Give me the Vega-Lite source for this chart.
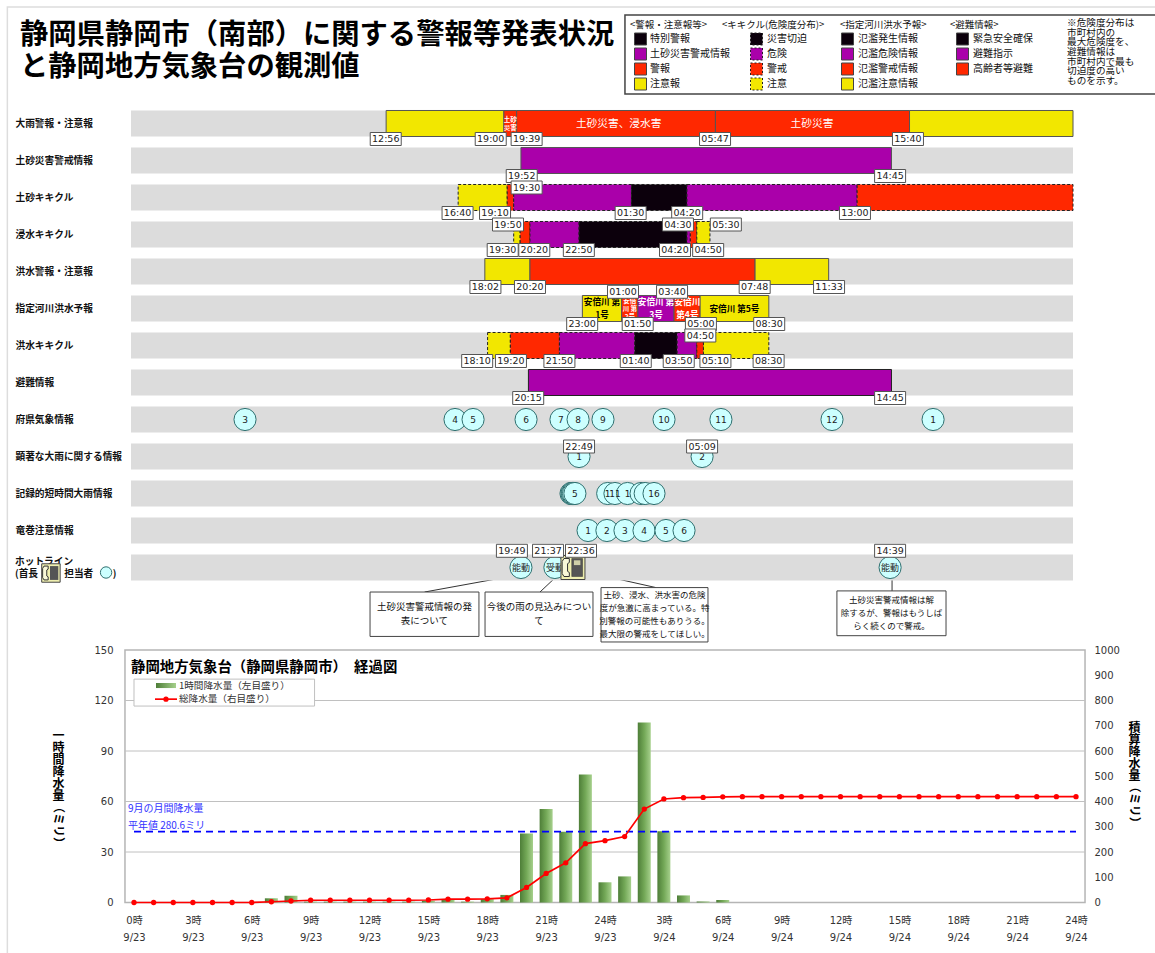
{"$schema":"https://vega.github.io/schema/vega-lite/v6.json","width":1155,"height":953,"autosize":"none","padding":0,"background":"white",
"config":{"font":"Noto Sans CJK JP","view":{"stroke":null}},
"title":{"text":["静岡県静岡市（南部）に関する警報等発表状況","と静岡地方気象台の観測値"],"anchor":"start","frame":"group","orient":"top","offset":-82,"dx":20,"fontSize":28.3,"fontWeight":"bold","lineHeight":32,"color":"#000","font":"Noto Sans CJK JP"},
"datasets":{
"rows":[{"row":"大雨警報・注意報"},{"row":"土砂災害警戒情報"},{"row":"土砂キキクル"},{"row":"浸水キキクル"},{"row":"洪水警報・注意報"},{"row":"指定河川洪水予報"},{"row":"洪水キキクル"},{"row":"避難情報"},{"row":"府県気象情報"},{"row":"顕著な大雨に関する情報"},{"row":"記録的短時間大雨情報"},{"row":"竜巻注意情報"},{"row":"ホットライン"}],
"hotlineLabel":[{"row":"ホットライン","start":-5.91,"label":"ホットライン\n(首長\u3000\u3000\u2002\u2009担当者\u3000\u3000)"}],
"warn":[{"row":"大雨警報・注意報","start":13,"end":19,"level":"注意報"},{"row":"大雨警報・注意報","start":19,"end":19.65,"level":"警報"},{"row":"大雨警報・注意報","start":19.65,"end":29.78,"level":"警報"},{"row":"大雨警報・注意報","start":29.78,"end":39.67,"level":"警報"},{"row":"大雨警報・注意報","start":39.67,"end":48,"level":"注意報"},{"row":"土砂災害警戒情報","start":19.87,"end":38.75,"level":"土砂災害警戒情報"},{"row":"洪水警報・注意報","start":18.03,"end":20.33,"level":"注意報"},{"row":"洪水警報・注意報","start":20.33,"end":31.8,"level":"警報"},{"row":"洪水警報・注意報","start":31.8,"end":35.55,"level":"注意報"}],
"kiki":[{"row":"土砂キキクル","start":16.67,"end":19.17,"level":"注意"},{"row":"土砂キキクル","start":19.17,"end":19.5,"level":"警戒"},{"row":"土砂キキクル","start":19.5,"end":25.5,"level":"危険"},{"row":"土砂キキクル","start":25.5,"end":28.33,"level":"災害切迫"},{"row":"土砂キキクル","start":28.33,"end":37,"level":"危険"},{"row":"土砂キキクル","start":37,"end":48,"level":"警戒"},{"row":"浸水キキクル","start":19.5,"end":19.83,"level":"注意"},{"row":"浸水キキクル","start":19.83,"end":20.33,"level":"警戒"},{"row":"浸水キキクル","start":20.33,"end":22.83,"level":"危険"},{"row":"浸水キキクル","start":22.83,"end":28.33,"level":"災害切迫"},{"row":"浸水キキクル","start":28.33,"end":28.5,"level":"危険"},{"row":"浸水キキクル","start":28.5,"end":28.83,"level":"警戒"},{"row":"浸水キキクル","start":28.83,"end":29.5,"level":"注意"},{"row":"洪水キキクル","start":18.17,"end":19.33,"level":"注意"},{"row":"洪水キキクル","start":19.33,"end":21.83,"level":"警戒"},{"row":"洪水キキクル","start":21.83,"end":25.67,"level":"危険"},{"row":"洪水キキクル","start":25.67,"end":27.83,"level":"災害切迫"},{"row":"洪水キキクル","start":27.83,"end":28.83,"level":"危険"},{"row":"洪水キキクル","start":28.83,"end":29.17,"level":"警戒"},{"row":"洪水キキクル","start":29.17,"end":32.5,"level":"注意"}],
"river":[{"row":"指定河川洪水予報","start":23,"end":25,"level":"氾濫注意情報"},{"row":"指定河川洪水予報","start":25,"end":25.83,"level":"氾濫警戒情報"},{"row":"指定河川洪水予報","start":25.83,"end":27.67,"level":"氾濫危険情報"},{"row":"指定河川洪水予報","start":27.67,"end":29,"level":"氾濫警戒情報"},{"row":"指定河川洪水予報","start":29,"end":32.5,"level":"氾濫注意情報"}],
"evac":[{"row":"避難情報","start":20.25,"end":38.75,"level":"避難指示"}],
"barText":[{"row":"大雨警報・注意報","start":24.85,"label":"土砂災害、浸水害","tone":"white","kind":"大"},{"row":"大雨警報・注意報","start":34.7,"label":"土砂災害","tone":"white","kind":"大"},{"row":"大雨警報・注意報","start":19.32,"label":"土砂\n災害","tone":"white","kind":"小"},{"row":"指定河川洪水予報","start":24,"label":"安倍川 第\n1号","tone":"black","kind":"中"},{"row":"指定河川洪水予報","start":25.42,"label":"安倍\n川 第\n2号","tone":"white","kind":"小"},{"row":"指定河川洪水予報","start":26.75,"label":"安倍川 第\n3号","tone":"white","kind":"中"},{"row":"指定河川洪水予報","start":28.35,"label":"安倍川\n第4号","tone":"white","kind":"中"},{"row":"指定河川洪水予報","start":30.75,"label":"安倍川 第5号","tone":"black","kind":"中"}],
"times":[{"row":"大雨警報・注意報","start":12.98,"label":"12:56","pos":"下","kind":"実線"},{"row":"大雨警報・注意報","start":18.33,"label":"19:00","pos":"下","kind":"実線"},{"row":"大雨警報・注意報","start":20.16,"label":"19:39","pos":"下","kind":"実線"},{"row":"大雨警報・注意報","start":29.76,"label":"05:47","pos":"下","kind":"実線"},{"row":"大雨警報・注意報","start":39.59,"label":"15:40","pos":"下","kind":"実線"},{"row":"土砂災害警戒情報","start":19.91,"label":"19:52","pos":"下","kind":"実線"},{"row":"土砂災害警戒情報","start":38.68,"label":"14:45","pos":"下","kind":"実線"},{"row":"土砂キキクル","start":16.64,"label":"16:40","pos":"下","kind":"破線"},{"row":"土砂キキクル","start":18.55,"label":"19:10","pos":"下","kind":"破線"},{"row":"土砂キキクル","start":20.16,"label":"19:30","pos":"上","kind":"破線"},{"row":"土砂キキクル","start":25.46,"label":"01:30","pos":"下","kind":"破線"},{"row":"土砂キキクル","start":28.34,"label":"04:20","pos":"下","kind":"破線"},{"row":"土砂キキクル","start":36.89,"label":"13:00","pos":"下","kind":"破線"},{"row":"浸水キキクル","start":19.21,"label":"19:50","pos":"上","kind":"破線"},{"row":"浸水キキクル","start":27.87,"label":"04:30","pos":"上","kind":"破線"},{"row":"浸水キキクル","start":30.31,"label":"05:30","pos":"上","kind":"破線"},{"row":"浸水キキクル","start":18.94,"label":"19:30","pos":"下","kind":"破線"},{"row":"浸水キキクル","start":20.55,"label":"20:20","pos":"下","kind":"破線"},{"row":"浸水キキクル","start":22.82,"label":"22:50","pos":"下","kind":"破線"},{"row":"浸水キキクル","start":27.72,"label":"04:20","pos":"下","kind":"破線"},{"row":"浸水キキクル","start":29.41,"label":"04:50","pos":"下","kind":"破線"},{"row":"洪水警報・注意報","start":18.06,"label":"18:02","pos":"下","kind":"実線"},{"row":"洪水警報・注意報","start":20.33,"label":"20:20","pos":"下","kind":"実線"},{"row":"洪水警報・注意報","start":31.78,"label":"07:48","pos":"下","kind":"実線"},{"row":"洪水警報・注意報","start":35.57,"label":"11:33","pos":"下","kind":"実線"},{"row":"指定河川洪水予報","start":25.07,"label":"01:00","pos":"上段","kind":"実線"},{"row":"指定河川洪水予報","start":27.57,"label":"03:40","pos":"上段","kind":"実線"},{"row":"指定河川洪水予報","start":22.99,"label":"23:00","pos":"下","kind":"実線"},{"row":"指定河川洪水予報","start":25.82,"label":"01:50","pos":"下","kind":"実線"},{"row":"指定河川洪水予報","start":29.04,"label":"05:00","pos":"下","kind":"実線"},{"row":"指定河川洪水予報","start":32.52,"label":"08:30","pos":"下","kind":"実線"},{"row":"洪水キキクル","start":29.01,"label":"04:50","pos":"上","kind":"破線"},{"row":"洪水キキクル","start":17.64,"label":"18:10","pos":"下","kind":"破線"},{"row":"洪水キキクル","start":19.36,"label":"19:20","pos":"下","kind":"破線"},{"row":"洪水キキクル","start":21.83,"label":"21:50","pos":"下","kind":"破線"},{"row":"洪水キキクル","start":25.72,"label":"01:40","pos":"下","kind":"破線"},{"row":"洪水キキクル","start":27.91,"label":"03:50","pos":"下","kind":"破線"},{"row":"洪水キキクル","start":29.78,"label":"05:10","pos":"下","kind":"破線"},{"row":"洪水キキクル","start":32.49,"label":"08:30","pos":"下","kind":"破線"},{"row":"避難情報","start":20.24,"label":"20:15","pos":"下","kind":"実線"},{"row":"避難情報","start":38.68,"label":"14:45","pos":"下","kind":"実線"},{"row":"顕著な大雨に関する情報","start":22.83,"label":"22:49","pos":"上","kind":"実線"},{"row":"顕著な大雨に関する情報","start":29.1,"label":"05:09","pos":"上","kind":"実線"},{"row":"ホットライン","start":19.41,"label":"19:49","pos":"上段","kind":"実線"},{"row":"ホットライン","start":21.25,"label":"21:37","pos":"上段","kind":"実線"},{"row":"ホットライン","start":22.93,"label":"22:36","pos":"上段","kind":"実線"},{"row":"ホットライン","start":38.68,"label":"14:39","pos":"上段","kind":"実線"}],
"circles":[{"row":"府県気象情報","start":5.81,"label":"3"},{"row":"府県気象情報","start":16.51,"label":"4"},{"row":"府県気象情報","start":17.43,"label":"5"},{"row":"府県気象情報","start":20.13,"label":"6"},{"row":"府県気象情報","start":21.91,"label":"7"},{"row":"府県気象情報","start":22.78,"label":"8"},{"row":"府県気象情報","start":24.05,"label":"9"},{"row":"府県気象情報","start":27.16,"label":"10"},{"row":"府県気象情報","start":30.06,"label":"11"},{"row":"府県気象情報","start":35.72,"label":"12"},{"row":"府県気象情報","start":40.87,"label":"1"},{"row":"顕著な大雨に関する情報","start":22.83,"label":"1"},{"row":"顕著な大雨に関する情報","start":29.1,"label":"2"},{"row":"記録的短時間大雨情報","start":22.42,"label":""},{"row":"記録的短時間大雨情報","start":22.47,"label":""},{"row":"記録的短時間大雨情報","start":22.5,"label":""},{"row":"記録的短時間大雨情報","start":22.55,"label":""},{"row":"記録的短時間大雨情報","start":22.62,"label":"5"},{"row":"記録的短時間大雨情報","start":24.29,"label":"1\u00a0\u00a0\u00a0"},{"row":"記録的短時間大雨情報","start":24.66,"label":"11"},{"row":"記録的短時間大雨情報","start":25.3,"label":"1\u00a0\u00a0\u00a0"},{"row":"記録的短時間大雨情報","start":25.99,"label":""},{"row":"記録的短時間大雨情報","start":26.2,"label":""},{"row":"記録的短時間大雨情報","start":26.65,"label":"16"},{"row":"竜巻注意情報","start":23.29,"label":"1"},{"row":"竜巻注意情報","start":24.25,"label":"2"},{"row":"竜巻注意情報","start":25.17,"label":"3"},{"row":"竜巻注意情報","start":26.14,"label":"4"},{"row":"竜巻注意情報","start":27.26,"label":"5"},{"row":"竜巻注意情報","start":28.18,"label":"6"},{"row":"ホットライン","start":19.87,"label":"能動"},{"row":"ホットライン","start":21.6,"label":"受動"},{"row":"ホットライン","start":38.68,"label":"能動"}],
"phone":[{"row":"ホットライン","start":22.52}],
"phoneKey":[{"row":"ホットライン","start":-4.08}],
"circleKey":[{"row":"ホットライン","start":-1.27}],
"notes":[{"start":-6.3,"end":53,"r":-3.12,"r2":30}],
"keyBox":[{"start":25.17,"end":53,"r":-2.905,"r2":-0.77}],
"boxes":[{"start":12.18,"end":17.73,"r":12.69,"r2":13.89},{"start":18.04,"end":23.54,"r":12.69,"r2":13.89},{"start":23.95,"end":29.4,"r":12.57,"r2":14.04},{"start":35.97,"end":41.53,"r":12.66,"r2":13.87}],
"leaders":[{"start":19.41,"end":14.96,"r":12.26,"r2":12.69},{"start":21.5,"end":20.84,"r":12.36,"r2":12.69},{"start":23.13,"end":26.75,"r":12.14,"r2":12.57},{"start":38.78,"end":38.78,"r":12.36,"r2":12.66}],
"boxText":[{"start":14.95,"r":13.29,"label":"土砂災害警戒情報の発\n表について","small":false},{"start":20.79,"r":13.29,"label":"今後の雨の見込みについ\nて","small":false},{"start":26.68,"r":13.3,"label":"土砂、浸水、洪水害の危険\n度が急激に高まっている。特\n別警報の可能性もありうる。\n最大限の警戒をしてほしい。","small":true},{"start":38.75,"r":13.26,"label":"土砂災害警戒情報は解\n除するが、警報はもうしば\nらく続くので警戒。","small":true}],
"keyNote":[{"start":47.7,"r":-2.82,"label":"※危険度分布は\n　市町村内の\n　最大危険度を、\n　避難情報は\n　市町村内で最も\n　切迫度の高い\n　ものを示す。"}],
"frame":[{"start":-0.46,"end":48.46,"val":0,"val2":150}],
"grid":[{"start":-0.46,"end":48.46,"val":30},{"start":-0.46,"end":48.46,"val":60},{"start":-0.46,"end":48.46,"val":90},{"start":-0.46,"end":48.46,"val":120}],
"rain":[{"start":7,"val":2.5},{"start":8,"val":4},{"start":9,"val":0.5},{"start":10,"val":0.5},{"start":11,"val":0.5},{"start":12,"val":0.5},{"start":13,"val":0.5},{"start":14,"val":0.5},{"start":15,"val":1},{"start":16,"val":1.5},{"start":17,"val":0.5},{"start":18,"val":2},{"start":19,"val":4.5},{"start":20,"val":41},{"start":21,"val":55.5},{"start":22,"val":42},{"start":23,"val":76},{"start":24,"val":12},{"start":25,"val":15.5},{"start":26,"val":107},{"start":27,"val":42.3},{"start":28,"val":4.2},{"start":29,"val":0.6},{"start":30,"val":1.5}],
"total":[{"start":0,"val":0},{"start":1,"val":0},{"start":2,"val":0},{"start":3,"val":0},{"start":4,"val":0},{"start":5,"val":0},{"start":6,"val":0},{"start":7,"val":3},{"start":8,"val":6},{"start":9,"val":9},{"start":10,"val":9},{"start":11,"val":9},{"start":12,"val":9},{"start":13,"val":9},{"start":14,"val":9},{"start":15,"val":10},{"start":16,"val":13},{"start":17,"val":13},{"start":18,"val":14.5},{"start":19,"val":18.5},{"start":20,"val":59.5},{"start":21,"val":115},{"start":22,"val":157},{"start":23,"val":233},{"start":24,"val":245},{"start":25,"val":261},{"start":26,"val":370},{"start":27,"val":410},{"start":28,"val":415},{"start":29,"val":416},{"start":30,"val":418.5},{"start":31,"val":419},{"start":32,"val":419},{"start":33,"val":419},{"start":34,"val":419},{"start":35,"val":419},{"start":36,"val":419},{"start":37,"val":419},{"start":38,"val":419},{"start":39,"val":419},{"start":40,"val":419},{"start":41,"val":419},{"start":42,"val":419},{"start":43,"val":419},{"start":44,"val":419},{"start":45,"val":419},{"start":46,"val":419},{"start":47,"val":419},{"start":48,"val":419}],
"normal":[{"start":0,"end":48,"val":280.6}],
"normalText":[{"start":-0.31,"val":369,"label":"9月の月間降水量"},{"start":-0.31,"val":301,"label":"平年値 280.6ミリ"}],
"chartTitle":[{"start":-0.15,"val":139.5,"label":"静岡地方気象台（静岡県静岡市）　経過図"}],
"chartKeyBox":[{"start":0,"end":9.2,"val":132.7,"val2":116.7}],
"chartKeyBar":[{"start":1.12,"end":2.14,"val":130.4,"val2":127.4}],
"chartKeyLine":[{"start":1.07,"val":120.8},{"start":2.19,"val":120.8}],
"chartKeyDot":[{"start":1.63,"val":120.8}],
"chartKeyText":[{"start":2.29,"val":128.4,"label":"1時間降水量（左目盛り）"},{"start":2.29,"val":120.6,"label":"総降水量（右目盛り）"}],
"leftUnit":[{"start":-3.87,"val":46,"label":"（ミリ）"}],
"rightUnit":[{"start":50.96,"val":387,"label":"（ミリ）"}]
},
"resolve":{"scale":{"x":"independent","y":"independent"},"axis":{"x":"independent","y":"independent"}},
"layer":[
{"encoding":{"x":{"field":"start","type":"quantitative","axis":null,"scale":{"domain":[0,48],"range":[131,1073],"nice":false,"zero":false}},"y":{"field":"r","type":"quantitative","axis":null,"scale":{"domain":[0,12],"range":[122.5,566.5],"nice":false,"zero":false}}},
"layer":[
{"data":{"name":"notes"},"mark":{"type":"rect","fill":null,"stroke":"#dddddd","strokeWidth":1.5},"encoding":{"x2":{"field":"end"},"y2":{"field":"r2"}}},
{"data":{"name":"keyBox"},"mark":{"type":"rect","fill":"white","stroke":"#444444","strokeWidth":1.5},"encoding":{"x2":{"field":"end"},"y2":{"field":"r2"}}},
{"data":{"name":"keyNote"},"mark":{"type":"text","align":"left","baseline":"top","fontSize":9.6,"lineHeight":9.6,"lineBreak":"\n","color":"#111"},"encoding":{"text":{"field":"label"}}},
{"data":{"name":"leaders"},"mark":{"type":"rule","stroke":"#333","strokeWidth":1},"encoding":{"x2":{"field":"end"},"y2":{"field":"r2"}}},
{"data":{"name":"boxes"},"mark":{"type":"rect","fill":"white","stroke":"#444444","strokeWidth":1},"encoding":{"x2":{"field":"end"},"y2":{"field":"r2"}}},
{"data":{"name":"boxText"},"transform":[{"filter":"!datum.small"}],"mark":{"type":"text","fontSize":9.5,"lineHeight":14,"lineBreak":"\n","color":"#111","dy":{"expr":"-7*(length(split(datum.label,'\\n'))-1)"}},"encoding":{"text":{"field":"label"}}},
{"data":{"name":"boxText"},"transform":[{"filter":"datum.small"}],"mark":{"type":"text","fontSize":8.5,"lineHeight":13,"lineBreak":"\n","color":"#111","dy":{"expr":"-6.5*(length(split(datum.label,'\\n'))-1)"}},"encoding":{"text":{"field":"label"}}}
]},
{"resolve":{"scale":{"fill":"independent"},"legend":{"fill":"independent"}},
"encoding":{"x":{"field":"start","type":"quantitative","axis":null,"scale":{"domain":[0,48],"range":[131,1073],"nice":false,"zero":false,"padding":0}},"y":{"field":"row","type":"nominal","scale":{"type":"band","domain":["大雨警報・注意報","土砂災害警戒情報","土砂キキクル","浸水キキクル","洪水警報・注意報","指定河川洪水予報","洪水キキクル","避難情報","府県気象情報","顕著な大雨に関する情報","記録的短時間大雨情報","竜巻注意情報","ホットライン"],"range":[105,586],"paddingInner":0.297,"paddingOuter":0.1485},"axis":{"orient":"left","title":null,"domain":false,"ticks":false,"labelAlign":"left","labelPadding":-15,"labelFontSize":9.7,"labelFontWeight":"bold","labelColor":"#111","labelLimit":200,"labelOverlap":false,"labelBound":false,"labelFont":"Noto Sans CJK JP","labelExpr":"datum.label=='ホットライン'?'':datum.label"}}},
"layer":[
{"data":{"name":"rows"},"transform":[{"calculate":"0","as":"start"},{"calculate":"48","as":"end"}],"mark":{"type":"rect","fill":"#dcdcdc"},"encoding":{"x2":{"field":"end"}}},
{"data":{"name":"hotlineLabel"},"mark":{"type":"text","align":"left","fontSize":9.7,"fontWeight":"bold","color":"#111","lineHeight":12,"lineBreak":"\n","dy":-6},"encoding":{"text":{"field":"label"}}},
{"data":{"name":"warn"},"mark":{"type":"rect","stroke":"#555555","strokeWidth":1},"encoding":{"x2":{"field":"end"},"fill":{"field":"level","type":"nominal","scale":{"domain":["特別警報","土砂災害警戒情報","警報","注意報"],"range":["#0c000c","#aa00aa","#ff2800","#f2e700"]},"legend":{"orient":"none","legendX":630,"legendY":20,"title":"<警報・注意報等>","padding":0,"titleFontSize":9.5,"titleFontWeight":"normal","titleColor":"#111","titlePadding":3,"symbolType":"square","symbolSize":144,"symbolStrokeColor":"#444","symbolStrokeWidth":1,"symbolOffset":4,"labelFontSize":10,"labelColor":"#111","labelOffset":3,"rowPadding":-3.7,"labelFont":"Noto Sans CJK JP","titleFont":"Noto Sans CJK JP"}}}},
{"data":{"name":"kiki"},"mark":{"type":"rect","stroke":"#222222","strokeWidth":1,"strokeDash":[3,2]},"encoding":{"x2":{"field":"end"},"fill":{"field":"level","type":"nominal","scale":{"domain":["災害切迫","危険","警戒","注意"],"range":["#0c000c","#aa00aa","#ff2800","#f2e700"]},"legend":{"orient":"none","legendX":722,"legendY":20,"title":"<キキクル(危険度分布)>","padding":0,"titleFontSize":9.5,"titleFontWeight":"normal","titleColor":"#111","titlePadding":3,"symbolType":"square","symbolSize":144,"symbolStrokeColor":"#222","symbolStrokeWidth":1,"symbolDash":[2,2],"symbolOffset":28,"labelFontSize":10,"labelColor":"#111","labelOffset":4,"rowPadding":-3.7,"labelFont":"Noto Sans CJK JP","titleFont":"Noto Sans CJK JP"}}}},
{"data":{"name":"river"},"mark":{"type":"rect","stroke":"#555555","strokeWidth":1},"encoding":{"x2":{"field":"end"},"fill":{"field":"level","type":"nominal","scale":{"domain":["氾濫発生情報","氾濫危険情報","氾濫警戒情報","氾濫注意情報"],"range":["#0c000c","#aa00aa","#ff2800","#f2e700"]},"legend":{"orient":"none","legendX":840,"legendY":20,"title":"<指定河川洪水予報>","padding":0,"titleFontSize":9.5,"titleFontWeight":"normal","titleColor":"#111","titlePadding":3,"symbolType":"square","symbolSize":144,"symbolStrokeColor":"#444","symbolStrokeWidth":1,"symbolOffset":1,"labelFontSize":10,"labelColor":"#111","labelOffset":4,"rowPadding":-3.7,"labelFont":"Noto Sans CJK JP","titleFont":"Noto Sans CJK JP"}}}},
{"data":{"name":"evac"},"mark":{"type":"rect","stroke":"#222222","strokeWidth":1},"encoding":{"x2":{"field":"end"},"fill":{"field":"level","type":"nominal","scale":{"domain":["緊急安全確保","避難指示","高齢者等避難"],"range":["#0c000c","#aa00aa","#ff2800"]},"legend":{"orient":"none","legendX":950,"legendY":20,"title":"<避難情報>","padding":0,"titleFontSize":9.5,"titleFontWeight":"normal","titleColor":"#111","titlePadding":3,"symbolType":"square","symbolSize":144,"symbolStrokeColor":"#444","symbolStrokeWidth":1,"symbolOffset":6,"labelFontSize":10,"labelColor":"#111","labelOffset":4,"rowPadding":-3.7,"labelFont":"Noto Sans CJK JP","titleFont":"Noto Sans CJK JP"}}}},
{"data":{"name":"barText"},"transform":[{"filter":"datum.kind=='大'"}],"mark":{"type":"text","fontSize":10.7,"fontWeight":"normal"},"encoding":{"text":{"field":"label"},"color":{"field":"tone","type":"nominal","scale":null}}},
{"data":{"name":"barText"},"transform":[{"filter":"datum.kind=='中'"}],"mark":{"type":"text","fontSize":8.6,"lineHeight":13,"lineBreak":"\n","fontWeight":"bold","dy":{"expr":"-6.5*(length(split(datum.label,'\\n'))-1)"}},"encoding":{"text":{"field":"label"},"color":{"field":"tone","type":"nominal","scale":null}}},
{"data":{"name":"barText"},"transform":[{"filter":"datum.kind=='小'"}],"mark":{"type":"text","fontSize":6.5,"lineHeight":8,"lineBreak":"\n","fontWeight":"bold","dy":{"expr":"-4*(length(split(datum.label,'\\n'))-1)"}},"encoding":{"text":{"field":"label"},"color":{"field":"tone","type":"nominal","scale":null}}},
{"data":{"name":"circles"},"mark":{"type":"circle","size":490,"fill":"#ccffff","stroke":"#2f6f6f","strokeWidth":1,"opacity":1}},
{"data":{"name":"circles"},"mark":{"type":"text","font":"DejaVu Sans, Noto Sans CJK JP","fontSize":9,"color":"#222"},"encoding":{"text":{"field":"label"}}},
{"data":{"name":"circleKey"},"mark":{"type":"circle","size":130,"fill":"#ccffff","stroke":"#2f6f6f","strokeWidth":1,"opacity":1,"yOffset":5}},
{"data":{"name":"phone"},"mark":{"type":"point","shape":"square","size":576,"filled":true,"fill":"#efefb0","stroke":"#444","strokeWidth":1,"opacity":1}},
{"data":{"name":"phone"},"mark":{"type":"point","shape":"M-0.75,-0.75L-0.3,-0.75L-0.3,-0.42L-0.45,-0.32L-0.45,0.32L-0.3,0.42L-0.3,0.75L-0.75,0.75L-0.9,0.5L-0.9,-0.5Z","size":576,"filled":true,"fill":"#f8f8d8","stroke":"#333","strokeWidth":1,"opacity":1}},
{"data":{"name":"phone"},"mark":{"type":"point","shape":"M-0.1,-0.75L0.8,-0.75L0.8,0.75L-0.1,0.75Z","size":576,"filled":true,"fill":"#555555","stroke":"#333","strokeWidth":0.5,"opacity":1}},
{"data":{"name":"phone"},"mark":{"type":"point","shape":"M0.08,-0.6L0.62,-0.6L0.62,-0.2L0.08,-0.2Z","size":576,"filled":true,"fill":"#cfcfa8","opacity":1}},
{"data":{"name":"phoneKey"},"mark":{"type":"point","shape":"square","size":340,"filled":true,"fill":"#efefb0","stroke":"#444","strokeWidth":1,"opacity":1,"yOffset":5.5}},
{"data":{"name":"phoneKey"},"mark":{"type":"point","shape":"M-0.75,-0.75L-0.3,-0.75L-0.3,-0.42L-0.45,-0.32L-0.45,0.32L-0.3,0.42L-0.3,0.75L-0.75,0.75L-0.9,0.5L-0.9,-0.5Z","size":340,"filled":true,"fill":"#f8f8d8","stroke":"#333","strokeWidth":1,"opacity":1,"yOffset":5.5}},
{"data":{"name":"phoneKey"},"mark":{"type":"point","shape":"M-0.1,-0.75L0.8,-0.75L0.8,0.75L-0.1,0.75Z","size":340,"filled":true,"fill":"#555555","opacity":1,"yOffset":5.5}},
{"data":{"name":"times"},"transform":[{"filter":"datum.pos=='下'"}],"mark":{"type":"rect","width":31,"height":13,"fill":"white","stroke":"#555","strokeWidth":1,"yOffset":15.5},"encoding":{"strokeDash":{"field":"kind","type":"nominal","scale":{"domain":["実線","破線"],"range":[[1,0],[3,2]]},"legend":null}}},
{"data":{"name":"times"},"transform":[{"filter":"datum.pos=='上'"}],"mark":{"type":"rect","width":31,"height":13,"fill":"white","stroke":"#555","strokeWidth":1,"yOffset":-10},"encoding":{"strokeDash":{"field":"kind","type":"nominal","scale":{"domain":["実線","破線"],"range":[[1,0],[3,2]]},"legend":null}}},
{"data":{"name":"times"},"transform":[{"filter":"datum.pos=='上段'"}],"mark":{"type":"rect","width":31,"height":13,"fill":"white","stroke":"#555","strokeWidth":1,"yOffset":-16.7},"encoding":{"strokeDash":{"field":"kind","type":"nominal","scale":{"domain":["実線","破線"],"range":[[1,0],[3,2]]},"legend":null}}},
{"data":{"name":"times"},"transform":[{"filter":"datum.pos=='下'"}],"mark":{"type":"text","font":"DejaVu Sans","fontSize":9.5,"color":"#222","yOffset":15.5},"encoding":{"text":{"field":"label"}}},
{"data":{"name":"times"},"transform":[{"filter":"datum.pos=='上'"}],"mark":{"type":"text","font":"DejaVu Sans","fontSize":9.5,"color":"#222","yOffset":-10},"encoding":{"text":{"field":"label"}}},
{"data":{"name":"times"},"transform":[{"filter":"datum.pos=='上段'"}],"mark":{"type":"text","font":"DejaVu Sans","fontSize":9.5,"color":"#222","yOffset":-16.7},"encoding":{"text":{"field":"label"}}}
]},
{"encoding":{"x":{"field":"start","type":"quantitative","scale":{"domain":[0,48],"range":[134,1076],"nice":false,"zero":false,"padding":0},"axis":{"orient":"bottom","offset":-51,"title":null,"domain":false,"ticks":false,"grid":false,"values":[0,3,6,9,12,15,18,21,24,27,30,33,36,39,42,45,48],"labelFont":"DejaVu Sans, Noto Sans CJK JP","labelFontSize":10,"labelColor":"#333","labelPadding":13,"labelLineHeight":17,"labelOverlap":false,"labelBound":false,"labelFlush":false,"labelExpr":"[(datum.value==0?0:((datum.value-1)%24+1))+'時',datum.value<=24?'9/23':'9/24']"}},
"y":{"field":"val","type":"quantitative","scale":{"domain":[0,150],"range":[902.5,650],"nice":false,"zero":false},"axis":{"orient":"left","offset":-125,"values":[0,30,60,90,120,150],"domain":false,"ticks":false,"grid":false,"labelFont":"DejaVu Sans","labelFontSize":10,"labelColor":"#333","labelPadding":12,"labelBound":false,"labelFlush":false,"labelOverlap":false,"title":["一","時","間","降","水","量"],"titleAngle":0,"titleX":-67,"titleY":730,"titleAlign":"center","titleBaseline":"top","titleFontSize":12,"titleFontWeight":"bold","titleLineHeight":12,"titleColor":"#000"}}},
"layer":[
{"data":{"name":"frame"},"mark":{"type":"rect","fill":"white","stroke":"#b5b5b5","strokeWidth":1.5},"encoding":{"x2":{"field":"end"},"y2":{"field":"val2"}}},
{"data":{"name":"grid"},"mark":{"type":"rule","stroke":"#c0c0c0","strokeWidth":1},"encoding":{"x2":{"field":"end"}}},
{"data":{"name":"rain"},"mark":{"type":"bar","width":13,"color":{"gradient":"linear","x1":0,"y1":0,"x2":1,"y2":0,"stops":[{"offset":0,"color":"#4e7e38"},{"offset":0.5,"color":"#73a857"},{"offset":1,"color":"#a6d08c"}]}}},
{"data":{"name":"chartTitle"},"mark":{"type":"text","align":"left","fontSize":14.4,"fontWeight":"bold","color":"#000"},"encoding":{"text":{"field":"label"}}},
{"data":{"name":"chartKeyBox"},"mark":{"type":"rect","fill":"white","stroke":"#c0c0c0","strokeWidth":1},"encoding":{"x2":{"field":"end"},"y2":{"field":"val2"}}},
{"data":{"name":"chartKeyBar"},"mark":{"type":"rect","color":{"gradient":"linear","x1":0,"y1":0,"x2":1,"y2":0,"stops":[{"offset":0,"color":"#4e7e38"},{"offset":1,"color":"#a6d08c"}]}},"encoding":{"x2":{"field":"end"},"y2":{"field":"val2"}}},
{"data":{"name":"chartKeyLine"},"mark":{"type":"line","color":"#ff0000","strokeWidth":1.7}},
{"data":{"name":"chartKeyDot"},"mark":{"type":"circle","color":"#ff0000","size":28,"opacity":1}},
{"data":{"name":"chartKeyText"},"mark":{"type":"text","align":"left","fontSize":9.6,"color":"#333"},"encoding":{"text":{"field":"label"}}},
{"data":{"name":"leftUnit"},"mark":{"type":"text","angle":90,"fontSize":12,"fontWeight":"bold","color":"#000"},"encoding":{"text":{"field":"label"}}}
]},
{"encoding":{"x":{"field":"start","type":"quantitative","axis":null,"scale":{"domain":[0,48],"range":[134,1076],"nice":false,"zero":false}},
"y":{"field":"val","type":"quantitative","scale":{"domain":[0,1000],"range":[902.5,650],"nice":false,"zero":false},"axis":{"orient":"right","offset":-70,"values":[0,100,200,300,400,500,600,700,800,900,1000],"format":"d","domain":false,"ticks":false,"grid":false,"labelFont":"DejaVu Sans","labelFontSize":10,"labelColor":"#333","labelPadding":9,"labelBound":false,"labelFlush":false,"labelOverlap":false,"title":["積","算","降","水","量"],"titleAngle":0,"titleX":49,"titleY":722,"titleAlign":"center","titleBaseline":"top","titleFontSize":12,"titleFontWeight":"bold","titleLineHeight":12,"titleColor":"#000"}}},
"layer":[
{"data":{"name":"normal"},"mark":{"type":"rule","stroke":"#0000ff","strokeWidth":1.7,"strokeDash":[7,5]},"encoding":{"x2":{"field":"end"}}},
{"data":{"name":"normalText"},"mark":{"type":"text","align":"left","fontSize":10,"color":"#3333ff"},"encoding":{"text":{"field":"label"}}},
{"data":{"name":"total"},"mark":{"type":"line","color":"#ff0000","strokeWidth":1.7,"point":{"filled":true,"size":28,"color":"#ff0000","opacity":1}}},
{"data":{"name":"rightUnit"},"mark":{"type":"text","angle":90,"fontSize":12,"fontWeight":"bold","color":"#000"},"encoding":{"text":{"field":"label"}}}
]}
]}
